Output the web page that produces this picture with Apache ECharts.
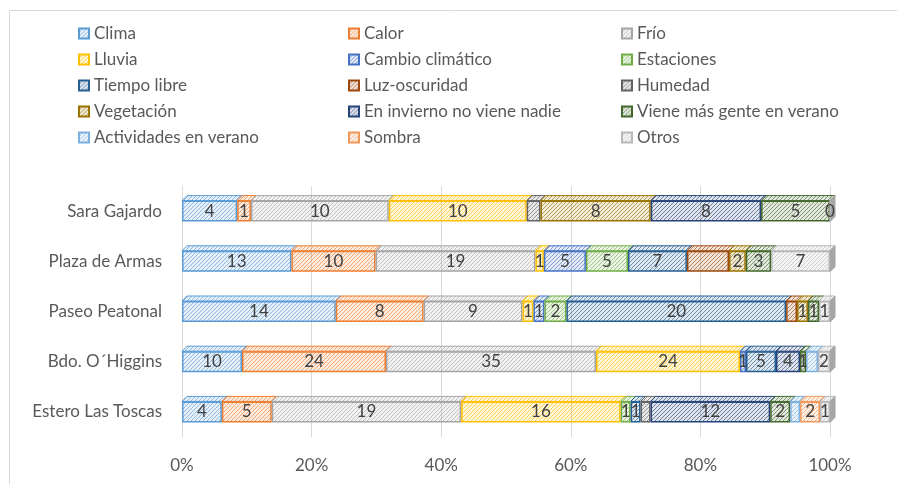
<!DOCTYPE html>
<html>
<head>
<meta charset="utf-8">
<script src="https://cdn.jsdelivr.net/npm/echarts@6/dist/echarts.min.js"></script>
<style>
  html, body { margin: 0; padding: 0; background: #fff; }
  #chart { width: 897px; height: 484px; }
</style>
</head>
<body>
<div id="chart"></div>
<script>
const categories = ['Sara Gajardo', 'Plaza de Armas', 'Paseo Peatonal', 'Bdo. O´Higgins', 'Estero Las Toscas'];
const xTicks = ['0%', '20%', '40%', '60%', '80%', '100%'];

// respuestas por categoría (null = sin barra)
const clima = [4, 13, 14, 10, 4];
const calor = [1, 10, 8, 24, 5];
const frio = [10, 19, 9, 35, 19];
const lluvia = [10, 1, 1, 24, 16];
const cambio = [null, 5, 1, 1, null];
const estaciones = [null, 5, 2, null, 1];
const tiempoLibre = [null, 7, 20, 5, 1];
const luz = [null, 5, 1, null, null];
const humedad = [1, null, null, null, 1];
const vegetacion = [8, 2, 1, null, null];
const invierno = [8, null, null, 4, 12];
const gente = [5, 3, 1, 1, 2];
const actividades = [null, null, null, 2, 1];
const sombra = [null, null, null, null, 2];
const otros = [0, 7, 1, 2, 1];

const seriesDefs = [
  { name: 'Clima', data: clima, color: '#5B9BD5' },
  { name: 'Calor', data: calor, color: '#ED7D31' },
  { name: 'Frío', data: frio, color: '#A5A5A5' },
  { name: 'Lluvia', data: lluvia, color: '#FFC000' },
  { name: 'Cambio climático', data: cambio, color: '#4472C4' },
  { name: 'Estaciones', data: estaciones, color: '#70AD47' },
  { name: 'Tiempo libre', data: tiempoLibre, color: '#255E91' },
  { name: 'Luz-oscuridad', data: luz, color: '#9E480E', noLabel: true },
  { name: 'Humedad', data: humedad, color: '#636363', noLabel: true },
  { name: 'Vegetación', data: vegetacion, color: '#997300' },
  { name: 'En invierno no viene nadie', data: invierno, color: '#264478' },
  { name: 'Viene más gente en verano', data: gente, color: '#43682B' },
  { name: 'Actividades en verano', data: actividades, color: '#7CAFDD', noLabel: true },
  { name: 'Sombra', data: sombra, color: '#F1975A' },
  { name: 'Otros', data: otros, color: '#B7B7B7' },
];

const FONT = 'Lato, "Open Sans", sans-serif';
const TEXT = '#595959';

function hexToRgb(hex) {
  const n = parseInt(hex.slice(1), 16);
  return [(n >> 16) & 255, (n >> 8) & 255, n & 255];
}

/** Trama diagonal al estilo Excel: fondo claro y rayas finas del color de la serie. */
function hatch(hex) {
  const size = 4;
  const canvas = document.createElement('canvas');
  canvas.width = size;
  canvas.height = size;
  const ctx = canvas.getContext('2d');
  const [r, g, b] = hexToRgb(hex);
  ctx.fillStyle = `rgba(${r},${g},${b},0.15)`;
  ctx.fillRect(0, 0, size, size);
  ctx.strokeStyle = `rgba(${r},${g},${b},0.7)`;
  ctx.lineWidth = 0.9;
  ctx.beginPath();
  for (let k = -1; k <= 1; k++) {
    ctx.moveTo(k * size, size);
    ctx.lineTo(k * size + size, 0);
  }
  ctx.stroke();
  return { image: canvas, repeat: 'repeat' };
}

const totals = categories.map((_, i) =>
  seriesDefs.reduce((sum, s) => sum + (s.data[i] || 0), 0));

const barSeries = seriesDefs.map((s) => ({
  name: s.name,
  type: 'bar',
  stack: 'total',
  barWidth: 21,
  itemStyle: { color: hatch(s.color), borderColor: s.color, borderWidth: 1.5 },
  label: {
    show: !s.noLabel,
    position: 'inside',
    color: '#404040',
    fontFamily: FONT,
    fontSize: 17,
    formatter: (p) => (s.data[p.dataIndex] === null ? '' : String(s.data[p.dataIndex])),
  },
  data: s.data.map((v, i) => (v === null ? null : (v / totals[i]) * 100)),
}));

// caras superiores (efecto 3D)
const faces = [];
categories.forEach((_, i) => {
  let acc = 0;
  seriesDefs.forEach((s, si) => {
    const v = s.data[i];
    if (v === null) return;
    const start = (acc / totals[i]) * 100;
    acc += v;
    faces.push([start, (acc / totals[i]) * 100, i, si]);
  });
});

const patterns = seriesDefs.map((s) => hatch(s.color));

const faceSeries = {
  type: 'custom',
  name: '3d',
  silent: true,
  z: 1,
  encode: { x: [0, 1], y: 2 },
  data: faces,
  renderItem(params, api) {
    const p0 = api.coord([api.value(0), api.value(2)]);
    const p1 = api.coord([api.value(1), api.value(2)]);
    const si = api.value(3);
    const color = seriesDefs[si].color;
    const top = p0[1] - 10.5;
    const bot = p0[1] + 10.5;
    const dx = 5;
    const dy = 5;
    const children = [{
      type: 'polygon',
      shape: { points: [[p0[0], top], [p1[0], top], [p1[0] + dx, top - dy], [p0[0] + dx, top - dy]] },
      style: { fill: patterns[si], stroke: color, lineWidth: 1 },
    }];
    if (si === seriesDefs.length - 1) {
      children.push({
        type: 'polygon',
        shape: { points: [[p1[0], top], [p1[0] + dx, top - dy], [p1[0] + dx, bot - dy], [p1[0], bot]] },
        style: { fill: '#A6A6A6', stroke: '#A6A6A6', lineWidth: 1 },
      });
    }
    return { type: 'group', children };
  },
};

function legendColumn(left, names) {
  return {
    orient: 'vertical',
    left,
    top: 25,
    padding: 0,
    itemWidth: 10,
    itemHeight: 10,
    itemGap: 9,
    icon: 'rect',
    selectedMode: false,
    textStyle: { color: TEXT, fontFamily: FONT, fontSize: 17, lineHeight: 16 },
    data: names,
  };
}

const names = seriesDefs.map((s) => s.name);

const chart = echarts.init(document.getElementById('chart'), null, { renderer: 'canvas' });
chart.setOption({
  animation: false,
  backgroundColor: '#fff',
  graphic: [{
    type: 'rect',
    shape: { x: 9.5, y: 10.5, width: 900, height: 500 },
    style: { fill: 'none', stroke: '#D9D9D9', lineWidth: 1 },
  }],
  legend: [
    legendColumn(78, names.filter((_, i) => i % 3 === 0)),
    legendColumn(348, names.filter((_, i) => i % 3 === 1)),
    legendColumn(621, names.filter((_, i) => i % 3 === 2)),
  ],
  grid: { left: 182, right: 67, top: 186, bottom: 47 },
  xAxis: {
    type: 'value',
    min: 0,
    max: 100,
    interval: 20,
    axisLine: { show: false },
    axisTick: { show: false },
    splitLine: { lineStyle: { color: '#D9D9D9' } },
    axisLabel: {
      color: TEXT,
      fontFamily: FONT,
      fontSize: 17,
      margin: 20,
      formatter: (v) => xTicks[Math.round(v / 20)],
    },
  },
  yAxis: {
    type: 'category',
    inverse: true,
    data: categories,
    axisLine: { lineStyle: { color: '#D9D9D9' } },
    axisTick: { show: false },
    axisLabel: { color: TEXT, fontFamily: FONT, fontSize: 17, margin: 20 },
  },
  series: [...barSeries, faceSeries],
});
</script>
</body>
</html>
